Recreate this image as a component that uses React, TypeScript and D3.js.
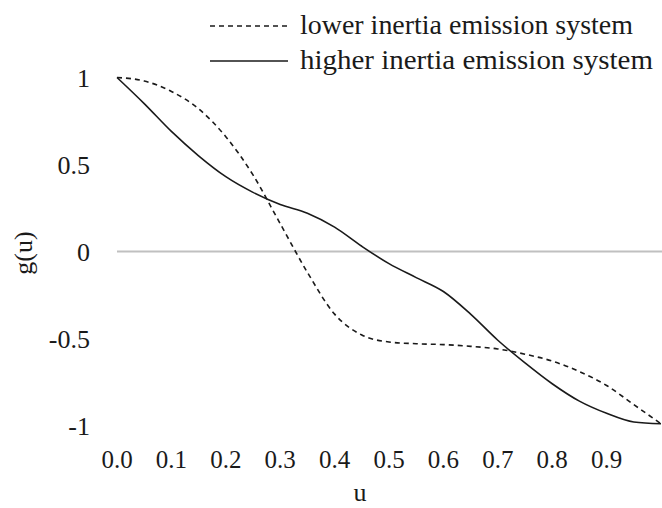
import React, { useEffect, useRef } from 'react';
import * as d3 from 'd3';

// u values and g(u)
const uValues = [0, 0.05, 0.1, 0.15, 0.2, 0.25, 0.3, 0.35, 0.4, 0.45, 0.5, 0.55, 0.6, 0.65, 0.7, 0.75, 0.8, 0.85, 0.9, 0.95, 1.0];
const lowerInertia = [1.0, 0.98, 0.92, 0.82, 0.66, 0.44, 0.16, -0.12, -0.36, -0.48, -0.52, -0.53, -0.535, -0.545, -0.56, -0.59, -0.63, -0.69, -0.77, -0.88, -0.99];
const higherInertia = [1.0, 0.85, 0.69, 0.55, 0.43, 0.34, 0.27, 0.22, 0.14, 0.03, -0.07, -0.15, -0.23, -0.36, -0.51, -0.64, -0.76, -0.86, -0.93, -0.98, -0.99];
const xTicks = [0, 0.1, 0.2, 0.3, 0.4, 0.5, 0.6, 0.7, 0.8, 0.9];
const yTicks = [1, 0.5, 0, -0.5, -1];
const seriesNames = ['lower inertia emission system', 'higher inertia emission system'];

const App = () => {
    const ref = useRef<SVGSVGElement>(null);

    useEffect(() => {
        const svg = d3.select(ref.current);
        svg.selectAll('*').remove();

        const width = 662;
        const font = '"Liberation Serif", "Times New Roman", serif';
        const ink = '#1a1a1a';

        const x = d3.scaleLinear().domain([0, 1]).range([117, 661]);
        const y = d3.scaleLinear().domain([-1, 1]).range([425.5, 77.5]);

        // zero line
        svg.append('line')
            .attr('x1', x(0)).attr('x2', width)
            .attr('y1', y(0)).attr('y2', y(0))
            .attr('stroke', '#c0c0c0')
            .attr('stroke-width', 2);

        // y tick labels
        svg.selectAll('.ytick')
            .data(yTicks)
            .enter()
            .append('text')
            .attr('x', 90)
            .attr('y', d => y(d) + 9)
            .attr('text-anchor', 'end')
            .style('font-family', font)
            .attr('font-size', 26)
            .attr('fill', ink)
            .text(d => String(d));

        // x tick labels
        svg.selectAll('.xtick')
            .data(xTicks)
            .enter()
            .append('text')
            .attr('x', d => x(d))
            .attr('y', 468)
            .attr('text-anchor', 'middle')
            .style('font-family', font)
            .attr('font-size', 25)
            .attr('fill', ink)
            .text(d => d3.format('.1f')(d));

        // axis titles
        svg.append('text')
            .attr('x', 360)
            .attr('y', 501)
            .attr('text-anchor', 'middle')
            .style('font-family', font)
            .attr('font-size', 26)
            .attr('fill', ink)
            .text('u');

        svg.append('text')
            .attr('transform', `translate(32,253) rotate(-90)`)
            .attr('text-anchor', 'middle')
            .style('font-family', font)
            .attr('font-size', 26)
            .attr('fill', ink)
            .text('g(u)');

        // curves
        const line = d3.line<number>()
            .x((d, i) => x(uValues[i]))
            .y(d => y(d))
            .curve(d3.curveMonotoneX);

        svg.append('path')
            .attr('d', line(lowerInertia))
            .attr('fill', 'none')
            .attr('stroke', ink)
            .attr('stroke-width', 1.6)
            .attr('stroke-dasharray', '5,4');

        svg.append('path')
            .attr('d', line(higherInertia))
            .attr('fill', 'none')
            .attr('stroke', ink)
            .attr('stroke-width', 1.6);

        // legend
        const legend = svg.append('g');
        const textWidths = [333, 353];
        seriesNames.forEach((name, i) => {
            const ly = 26 + i * 35;
            legend.append('line')
                .attr('x1', 210).attr('x2', 288)
                .attr('y1', ly).attr('y2', ly)
                .attr('stroke', ink)
                .attr('stroke-width', 1.6)
                .attr('stroke-dasharray', i === 0 ? '5,4' : null);
            legend.append('text')
                .attr('x', 300)
                .attr('y', ly + 8)
                .style('font-family', font)
                .attr('font-size', 27)
                .attr('fill', ink)
                .attr('textLength', textWidths[i])
                .attr('lengthAdjust', 'spacingAndGlyphs')
                .text(name);
        });
    }, []);

    return (
        <svg
            ref={ref}
            width={662}
            height={508}
            style={{ position: 'absolute', left: 0, top: 0, background: '#fff' }}
        />
    );
};

export default App;
